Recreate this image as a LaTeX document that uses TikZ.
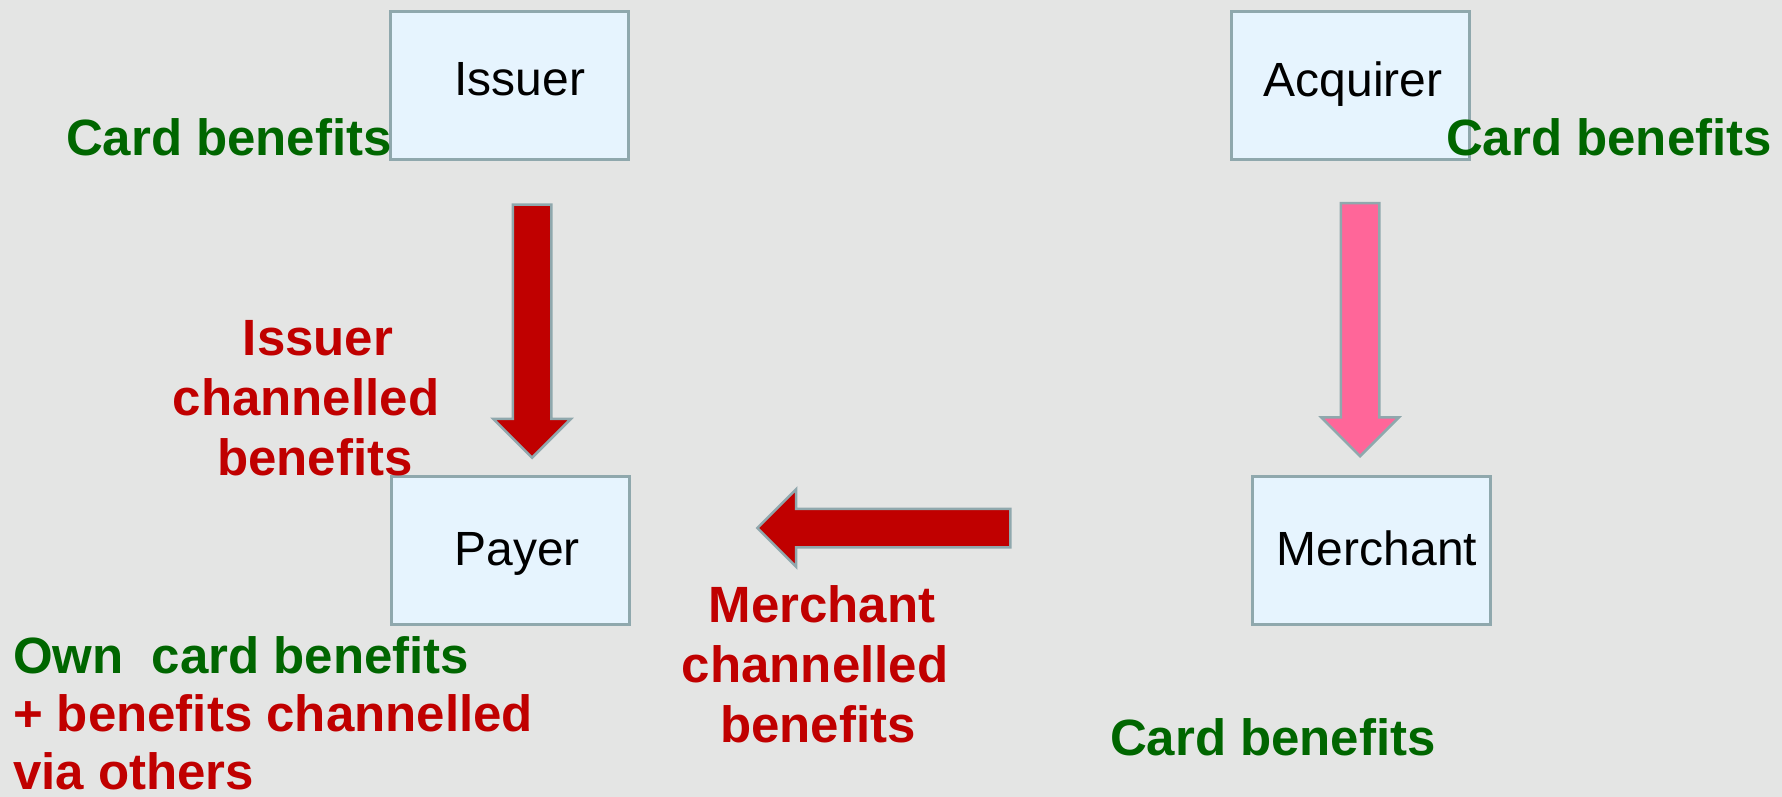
\documentclass[tikz,border=0pt]{standalone}
\usepackage{fontspec}
\setmainfont{Liberation Sans}
\usetikzlibrary{shapes.arrows,calc}
\definecolor{bg}{RGB}{228,229,228}
\definecolor{boxfill}{RGB}{230,244,254}
\definecolor{boxline}{RGB}{143,168,173}
\definecolor{flowred}{RGB}{192,0,0}
\definecolor{flowpink}{RGB}{255,102,153}
\definecolor{leaf}{RGB}{0,102,0}
\begin{document}
\begin{tikzpicture}[x=1pt,y=-1pt,
  party/.style={draw=boxline, line width=3pt, fill=boxfill,
    minimum width=238pt, minimum height=148pt, inner sep=0pt,
    font=\fontsize{48}{58}\selectfont},
  blockarrow/.style={single arrow, draw=boxline, line width=2.5pt,
    minimum height=253pt, minimum width=75pt,
    single arrow head extend=19.5pt, anchor=tip},
  downflow/.style={blockarrow, shape border rotate=270,
    inner xsep=18pt, inner ysep=0pt},
  leftflow/.style={blockarrow, shape border rotate=180,
    inner xsep=0pt, inner ysep=18pt},
  note/.style={inner sep=0pt, outer sep=0pt,
    font=\fontsize{51}{60}\selectfont\bfseries},
]
% canvas
\fill[bg] (0,0) rectangle (1782,797);
\useasboundingbox (0,0) rectangle (1782,797);

% the four parties
\node[party, text height=36pt, text depth=16pt] (issuer)   at (509.5,85.5)  {\hspace*{21pt}Issuer};
\node[party, text height=36pt, text depth=13pt] (acquirer) at (1350,85.5)   {\hspace*{6pt}Acquirer};
\node[party, text height=40pt, text depth=10pt] (payer)    at (510,550)     {\hspace*{14pt}Payer};
\node[party, text height=40pt, text depth=11pt] (merchant) at (1371.5,550.5){\hspace*{11pt}Merchant};

% benefit flows, placed by their tips
\node[downflow, fill=flowred]  (issuerflow)   at ($(payer.north)+(22,-15)$) {};
\node[downflow, fill=flowpink] (acquirerflow) at ($(merchant.north)+(-11.5,-17)$) {};
\node[leftflow, fill=flowred]  (merchantflow) at ($(payer.east)+(125,-22)$) {};

% labels
\node[note, text=leaf, anchor=base west] (cbissuer)   at (66,155)   {Card benefits};
\node[note, text=leaf, anchor=base west] (cbacquirer) at (1446,155)  {Card benefits};
\node[note, text=leaf, anchor=base west] (cbmerchant) at (1110,755)  {Card benefits};
\node[note, text=flowred, align=center, anchor=north] (issuerlabel) at (306,315)
  {\rule{0pt}{40pt}\hspace*{24pt}Issuer\\channelled\\\hspace*{18pt}benefits};
\node[note, text=flowred, align=center, anchor=north] (merchantlabel) at (815,582)
  {\rule{0pt}{40pt}\hspace*{14pt}Merchant\\channelled\\\hspace*{6pt}benefits};
\node[note, font=\fontsize{51}{58}\selectfont\bfseries, align=left, anchor=north west] (payerlabel) at (13,633)
  {\rule{0pt}{40pt}\textcolor{leaf}{Own\ \ card benefits}\\
   \textcolor{flowred}{+ benefits channelled}\\
   \textcolor{flowred}{via others}};
\end{tikzpicture}
\end{document}
